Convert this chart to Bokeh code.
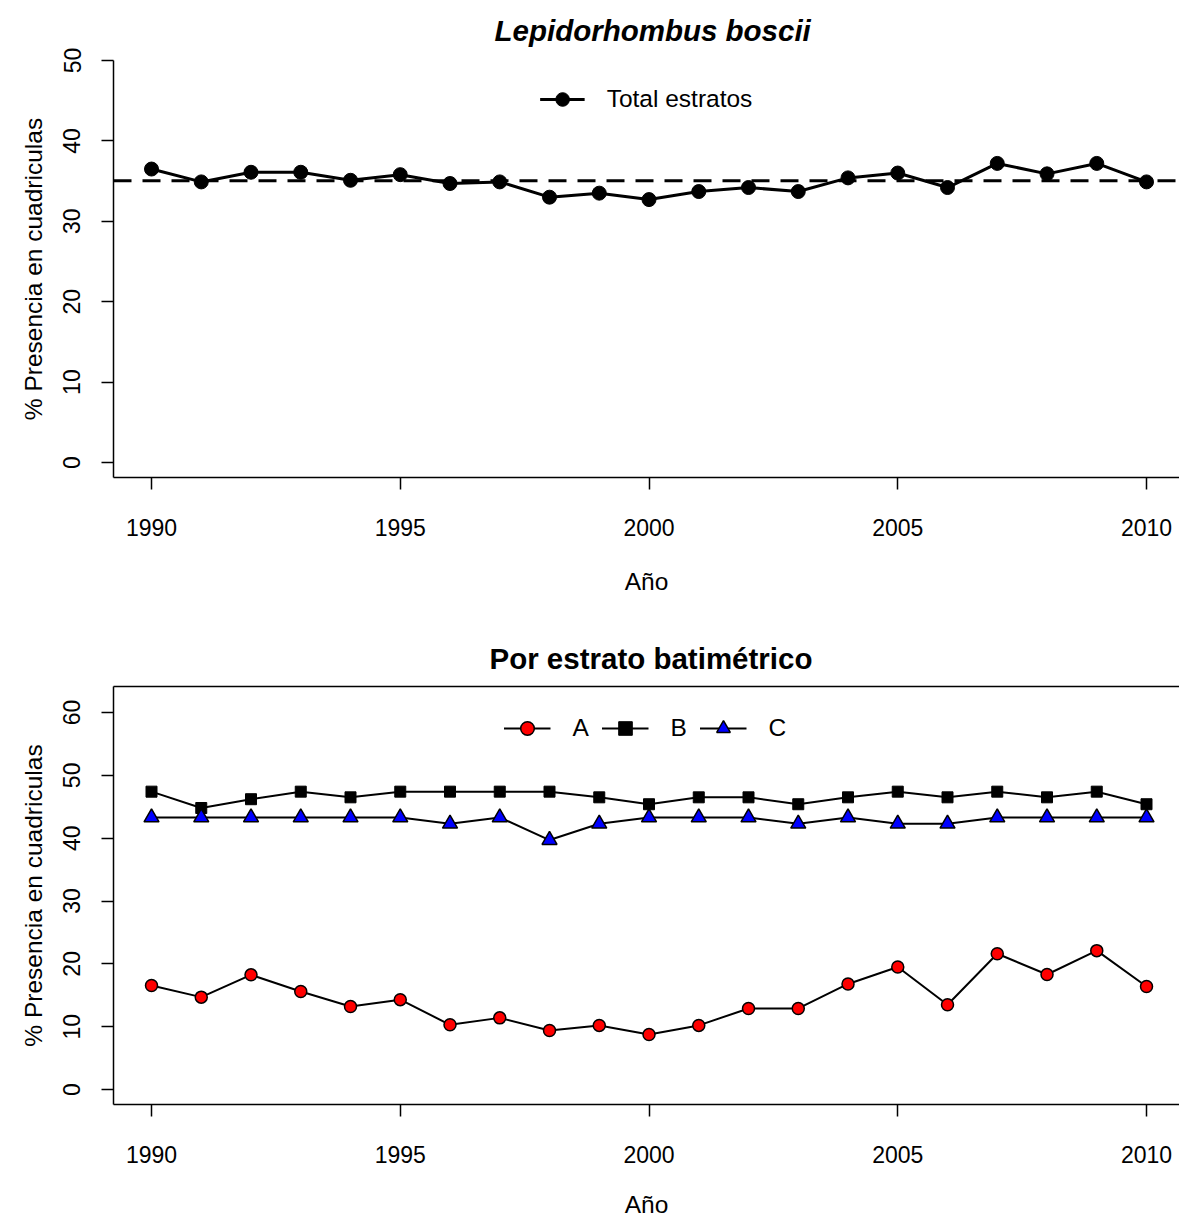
import numpy as np
from bokeh.plotting import figure
from bokeh.layouts import column
from bokeh.models import (Range1d, FixedTicker, Span, Legend, LegendItem,
                          Title, LinearAxis)
from bokeh.embed import file_html
from bokeh.resources import INLINE

# Survey years
years = list(range(1990, 2011))

# % presence in survey grid cells, all depth strata combined
total_estratos = [36.5, 34.9, 36.1, 36.1, 35.1, 35.8, 34.7, 34.9, 33.0, 33.5, 32.7,
                  33.7, 34.2, 33.7, 35.4, 36.0, 34.2, 37.2, 35.9, 37.2, 34.9]

# % presence by depth stratum
estrato_a = [16.55, 14.7, 18.25, 15.6, 13.2, 14.3, 10.3, 11.4, 9.4, 10.2, 8.75,
             10.2, 12.9, 12.9, 16.8, 19.5, 13.5, 21.6, 18.3, 22.1, 16.4]
estrato_b = [47.4, 44.8, 46.2, 47.4, 46.5, 47.4, 47.4, 47.4, 47.4, 46.5, 45.4,
             46.5, 46.5, 45.4, 46.5, 47.4, 46.5, 47.4, 46.5, 47.4, 45.4]
estrato_c = [43.3, 43.3, 43.3, 43.3, 43.3, 43.3, 42.3, 43.3, 39.7, 42.3, 43.3,
             43.3, 43.3, 42.3, 43.3, 42.3, 42.3, 43.3, 43.3, 43.3, 43.3]

x_ticks = [1990, 1995, 2000, 2005, 2010]
y_ticks_top = [0, 10, 20, 30, 40, 50]
y_ticks_bottom = [0, 10, 20, 30, 40, 50, 60]

X_RANGE = (1989.236, 2010.663)
Y_RANGE_TOP = (-1.866, 50)
Y_RANGE_BOTTOM = (-2.387, 64.138)

FONT = "Liberation Sans"
TICK_SIZE = "23px"
LABEL_SIZE = "24.5px"
TITLE_SIZE = "29.5px"


def style_axes(p, yticks):
    p.xaxis.ticker = FixedTicker(ticks=x_ticks)
    p.yaxis.ticker = FixedTicker(ticks=yticks)
    for ax in (p.xaxis[0], p.yaxis[0]):
        ax.axis_line_color = "black"
        ax.axis_line_width = 1.5
        ax.major_tick_line_color = "black"
        ax.major_tick_line_width = 1.5
        ax.major_tick_out = 12
        ax.major_tick_in = 0
        ax.minor_tick_line_color = None
        ax.major_label_text_font = FONT
        ax.major_label_text_font_size = TICK_SIZE
        ax.major_label_text_color = "black"
        ax.axis_label_text_font = FONT
        ax.axis_label_text_font_size = LABEL_SIZE
        ax.axis_label_text_font_style = "normal"
        ax.axis_label_text_color = "black"
    p.xaxis.axis_label = "Año"
    p.xaxis.major_label_standoff = 29
    p.xaxis.axis_label_standoff = 29
    p.yaxis.axis_label = "% Presencia en cuadriculas"
    p.yaxis.major_label_orientation = "vertical"
    p.yaxis.major_label_standoff = 21
    p.yaxis.axis_label_standoff = 14
    p.xgrid.grid_line_color = None
    p.ygrid.grid_line_color = None
    p.outline_line_color = None
    p.background_fill_color = "white"
    p.border_fill_color = "white"


def make_title(text, style, standoff, offset):
    return Title(text=text, align="left", vertical_align="top",
                 text_font=FONT, text_font_size=TITLE_SIZE,
                 text_font_style=style, text_color="black",
                 standoff=standoff, offset=offset)


def make_legend(items, margin, glyph_width, standoff, spacing):
    return Legend(items=items, location="top_center", orientation="horizontal",
                  border_line_color=None, background_fill_alpha=0, padding=0,
                  margin=margin, spacing=spacing, glyph_width=glyph_width,
                  glyph_height=34, label_standoff=standoff, label_text_font=FONT,
                  label_text_font_size=LABEL_SIZE, label_text_color="black")


# ---- Upper panel: all strata ----
p1 = figure(width=1179, height=611, output_backend="svg", toolbar_location=None,
            x_range=Range1d(*X_RANGE), y_range=Range1d(*Y_RANGE_TOP),
            min_border_left=113, min_border_right=0, min_border_top=60,
            min_border_bottom=134)
style_axes(p1, y_ticks_top)
p1.title = make_title("Lepidorhombus boscii", "bold italic", 24, 381)

mean_total = float(np.mean(total_estratos))
p1.add_layout(Span(location=mean_total, dimension="width", line_color="black",
                   line_width=3, line_dash="18 11"))

l_tot = p1.line(years, total_estratos, line_color="black", line_width=3)
s_tot = p1.scatter(years, total_estratos, marker="circle", size=14,
                   fill_color="black", line_color="black")

p1.add_layout(make_legend(
    [LegendItem(label="Total estratos", renderers=[l_tot, s_tot])],
    margin=22, glyph_width=45, standoff=22, spacing=9))

# ---- Lower panel: by depth stratum ----
p2 = figure(width=1179, height=610, output_backend="svg", toolbar_location=None,
            x_range=Range1d(*X_RANGE), y_range=Range1d(*Y_RANGE_BOTTOM),
            min_border_left=113, min_border_right=0, min_border_top=75,
            min_border_bottom=117)
style_axes(p2, y_ticks_bottom)
p2.xaxis.major_label_standoff = 29
p2.xaxis.axis_label_standoff = 25
p2.title = make_title("Por estrato batimétrico", "bold", 19, 376)

# top edge of the box (the right edge lies past the page)
top_edge = LinearAxis(ticker=FixedTicker(ticks=[]), axis_line_color="black",
                      axis_line_width=1.5, major_tick_line_color=None,
                      minor_tick_line_color=None)
p2.add_layout(top_edge, "above")

l_a = p2.line(years, estrato_a, line_color="black", line_width=2)
s_a = p2.scatter(years, estrato_a, marker="circle", size=12,
                 fill_color="red", line_color="black", line_width=1.5)
l_b = p2.line(years, estrato_b, line_color="black", line_width=2)
s_b = p2.scatter(years, estrato_b, marker="square", size=11,
                 fill_color="black", line_color="black")
l_c = p2.line(years, estrato_c, line_color="black", line_width=2)
s_c = p2.scatter(years, estrato_c, marker="triangle", size=15,
                 fill_color="blue", line_color="black", line_width=1.5)

p2.add_layout(make_legend(
    [LegendItem(label="A", renderers=[l_a, s_a]),
     LegendItem(label="B", renderers=[l_b, s_b]),
     LegendItem(label="C", renderers=[l_c, s_c])],
    margin=25, glyph_width=47, standoff=22, spacing=9))

layout = column(p1, p2, spacing=0)
open("out.html", "w").write(file_html(layout, INLINE))
